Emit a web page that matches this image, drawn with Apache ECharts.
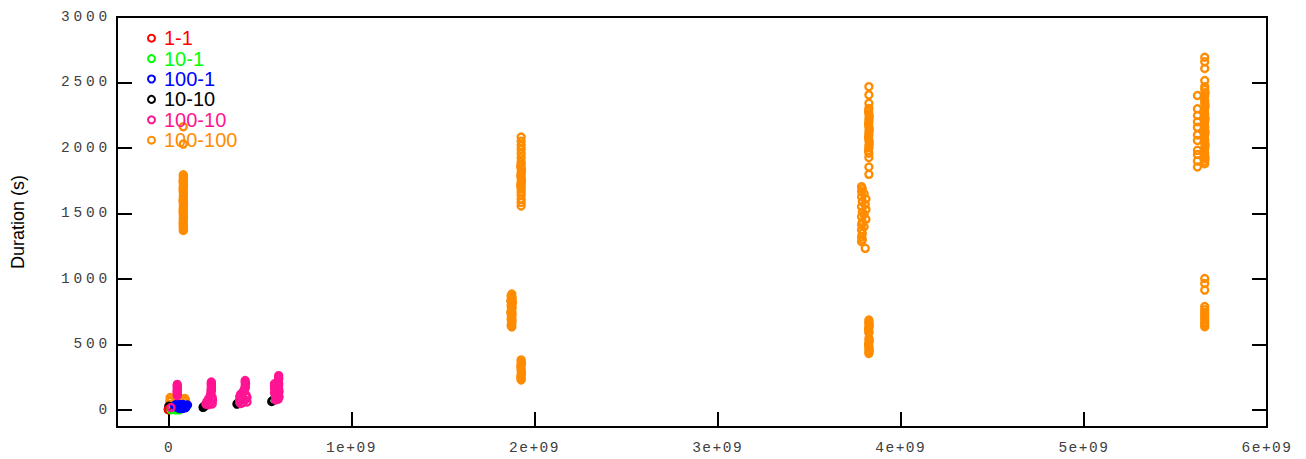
<!DOCTYPE html>
<html><head><meta charset="utf-8">
<script src="https://cdn.jsdelivr.net/npm/echarts@6/dist/echarts.min.js"></script>
<style>html,body{margin:0;padding:0;background:#fff}#chart{width:1306px;height:459px}</style>
</head><body><div id="chart"></div>
<script>
const seriesNames = ['1-1', '10-1', '100-1', '10-10', '100-10', '100-100'];
const seriesColors = ['#ff0000', '#00ff00', '#0000ff', '#000000', '#ff1493', '#ff8c00'];
const xTickValues = [0, 1e9, 2e9, 3e9, 4e9, 5e9, 6e9];
const xTickLabels = ['0', '1e+09', '2e+09', '3e+09', '4e+09', '5e+09', '6e+09'];
const yTickValues = [0, 500, 1000, 1500, 2000, 2500, 3000];
const yTickLabels = ['0', '500', '1000', '1500', '2000', '2500', '3000'];

const data_1_1 = [[1e6, 2], [2e6, 4], [3e6, 6]];
const data_10_1 = [[1.5e7, 2], [4e7, 1], [6e7, 1]];
const data_100_1 = [[3.5e7, 30], [4e7, 40], [4.5e7, 22], [5e7, 35], [5.5e7, 45], [6e7, 28],
  [6.5e7, 38], [7e7, 20], [7.5e7, 33], [8e7, 42], [8.5e7, 25], [9e7, 36], [9.5e7, 18],
  [1e8, 30], [1.05e8, 38], [6e7, 12], [8e7, 12]];
const data_10_10 = [[0, 5], [5e6, 15], [1e7, 22], [3e6, 28],
  [1.9e8, 20], [1.95e8, 26], [2e8, 32],
  [3.75e8, 45], [3.8e8, 52],
  [5.65e8, 65], [5.7e8, 72]];
const data_100_10 = [[1.5e7, 18],
  [4.9e7, 195], [4.9e7, 184], [4.9e7, 173], [5.0e7, 165], [4.9e7, 152], [4.8e7, 141], [4.9e7, 130], [5.0e7, 120], [4.9e7, 110],
  [2.35e8, 213], [2.35e8, 204], [2.35e8, 194], [2.35e8, 184], [2.36e8, 174], [2.35e8, 163], [2.34e8, 154], [2.35e8, 145],
  [2.33e8, 130], [2.3e8, 112], [2.4e8, 96], [2.2e8, 86], [2.42e8, 74], [2.1e8, 62], [2.3e8, 55], [2.4e8, 46], [2.05e8, 45], [2.2e8, 40],
  [4.2e8, 225], [4.2e8, 212], [4.22e8, 200], [4.2e8, 186], [4.21e8, 171], [4.15e8, 156], [4.1e8, 141], [4.05e8, 130],
  [3.95e8, 120], [4.25e8, 114], [3.9e8, 101], [4.3e8, 95], [4e8, 85], [4.2e8, 76], [3.9e8, 70], [4.3e8, 61], [4.05e8, 55], [3.95e8, 50],
  [6.03e8, 262], [6.03e8, 248], [6.03e8, 235], [6.0e8, 221], [6.03e8, 206], [5.8e8, 200], [6.03e8, 190], [5.8e8, 184],
  [6.0e8, 175], [5.8e8, 166], [6.03e8, 160], [5.85e8, 150], [6.05e8, 140], [5.8e8, 131], [6.0e8, 120], [5.85e8, 110],
  [6.05e8, 100], [5.9e8, 91], [6.0e8, 82], [5.85e8, 76]];
const data_100_100 = [
  [1.0e7, 95], [1.2e7, 78], [0.8e7, 66], [9.0e7, 88], [9.5e7, 73], [8.8e7, 61],
  [8.2e7, 2163], [8.2e7, 2030], [8.2e7, 1795], [8.2e7, 1781], [8.3e7, 1768], [8.1e7, 1752], [8.2e7, 1743], [8.2e7, 1728],
  [8.3e7, 1714], [8.2e7, 1702], [8.2e7, 1695], [8.1e7, 1679], [8.2e7, 1663], [8.3e7, 1648], [8.2e7, 1629], [8.2e7, 1612],
  [8.1e7, 1600], [8.2e7, 1591], [8.2e7, 1575], [8.3e7, 1561], [8.2e7, 1546], [8.2e7, 1533], [8.1e7, 1519], [8.2e7, 1505],
  [8.2e7, 1491], [8.3e7, 1477], [8.2e7, 1462], [8.2e7, 1449], [8.1e7, 1429], [8.2e7, 1413], [8.2e7, 1402], [8.2e7, 1390],
  [8.3e7, 1378], [8.2e7, 1370],
  [1.927e9, 2083], [1.927e9, 2052], [1.927e9, 2020], [1.927e9, 1991], [1.927e9, 1957], [1.927e9, 1925], [1.927e9, 1893],
  [1.927e9, 1876], [1.925e9, 1861], [1.927e9, 1846], [1.929e9, 1831], [1.927e9, 1814], [1.927e9, 1799], [1.925e9, 1786],
  [1.927e9, 1770], [1.929e9, 1754], [1.927e9, 1741], [1.927e9, 1726], [1.925e9, 1714], [1.927e9, 1702], [1.927e9, 1686],
  [1.927e9, 1664], [1.927e9, 1641], [1.927e9, 1608], [1.927e9, 1584], [1.927e9, 1557],
  [1.876e9, 885], [1.872e9, 871], [1.878e9, 858], [1.876e9, 846], [1.870e9, 833], [1.880e9, 821], [1.876e9, 807],
  [1.872e9, 795], [1.878e9, 782], [1.874e9, 770], [1.876e9, 757], [1.870e9, 746], [1.878e9, 732], [1.874e9, 721],
  [1.876e9, 707], [1.872e9, 694], [1.878e9, 683], [1.874e9, 669], [1.876e9, 656], [1.872e9, 645], [1.876e9, 634],
  [1.927e9, 382], [1.927e9, 369], [1.929e9, 356], [1.927e9, 344], [1.925e9, 331], [1.927e9, 311], [1.927e9, 296],
  [1.929e9, 281], [1.927e9, 266], [1.925e9, 251], [1.927e9, 238], [1.927e9, 229],
  [3.826e9, 2468], [3.826e9, 2405], [3.826e9, 2341], [3.826e9, 2302], [3.824e9, 2281], [3.826e9, 2262], [3.828e9, 2240],
  [3.826e9, 2221], [3.826e9, 2199], [3.824e9, 2182], [3.826e9, 2161], [3.828e9, 2139], [3.826e9, 2121], [3.826e9, 2102],
  [3.824e9, 2080], [3.826e9, 2061], [3.828e9, 2041], [3.826e9, 2019], [3.826e9, 2001], [3.824e9, 1979], [3.826e9, 1960],
  [3.826e9, 1927], [3.826e9, 1855], [3.826e9, 1799],
  [3.786e9, 1705], [3.790e9, 1689], [3.786e9, 1667], [3.800e9, 1651], [3.786e9, 1628], [3.810e9, 1611], [3.790e9, 1591],
  [3.806e9, 1570], [3.786e9, 1552], [3.810e9, 1531], [3.790e9, 1511], [3.800e9, 1494], [3.786e9, 1476], [3.810e9, 1456],
  [3.790e9, 1436], [3.786e9, 1415], [3.800e9, 1399], [3.786e9, 1376], [3.790e9, 1348], [3.786e9, 1321], [3.790e9, 1301],
  [3.786e9, 1285], [3.806e9, 1234],
  [3.826e9, 687], [3.826e9, 672], [3.826e9, 659], [3.828e9, 645], [3.826e9, 630], [3.824e9, 616], [3.826e9, 601],
  [3.826e9, 588], [3.826e9, 546], [3.828e9, 531], [3.826e9, 516], [3.824e9, 500], [3.826e9, 486], [3.826e9, 471],
  [3.828e9, 456], [3.826e9, 443], [3.826e9, 432],
  [5.66e9, 2693], [5.66e9, 2658], [5.66e9, 2607], [5.66e9, 2515], [5.66e9, 2468], [5.66e9, 2446], [5.662e9, 2421],
  [5.66e9, 2399], [5.658e9, 2381], [5.66e9, 2361], [5.66e9, 2339], [5.662e9, 2321], [5.66e9, 2301], [5.658e9, 2279],
  [5.66e9, 2261], [5.66e9, 2239], [5.662e9, 2221], [5.66e9, 2200], [5.658e9, 2181], [5.66e9, 2160], [5.66e9, 2139],
  [5.662e9, 2121], [5.66e9, 2101], [5.658e9, 2079], [5.66e9, 2061], [5.66e9, 2039], [5.662e9, 2021], [5.66e9, 2000],
  [5.658e9, 1981], [5.66e9, 1960], [5.66e9, 1941], [5.662e9, 1921], [5.66e9, 1899], [5.66e9, 1880],
  [5.62e9, 2401], [5.62e9, 2299], [5.62e9, 2248], [5.62e9, 2200], [5.62e9, 2159], [5.62e9, 2100], [5.62e9, 2058],
  [5.62e9, 1982], [5.62e9, 1950], [5.62e9, 1900], [5.62e9, 1855],
  [5.66e9, 1004], [5.66e9, 966], [5.66e9, 915], [5.66e9, 789], [5.66e9, 766], [5.66e9, 745], [5.66e9, 725],
  [5.66e9, 705], [5.66e9, 686], [5.66e9, 666], [5.66e9, 650], [5.66e9, 636]];

const seriesData = [data_1_1, data_10_1, data_100_1, data_10_10, data_100_10, data_100_100];
const seriesZ = [3, 4, 5, 2, 6, 1];

const monoFont = 'Liberation Mono';
const chart = echarts.init(document.getElementById('chart'), null, {renderer: 'svg'});
chart.setOption({
  animation: false,
  backgroundColor: '#fff',
  grid: {left: 117, right: 39, top: 17, bottom: 32, show: true, borderColor: '#000', borderWidth: 2, backgroundColor: 'transparent'},
  legend: {
    orient: 'vertical', left: 147, top: 28, padding: 0, itemGap: 0,
    itemWidth: 7, itemHeight: 7,
    selectedMode: false,
    data: seriesNames.map((n, i) => ({name: n, textStyle: {color: seriesColors[i]}})),
    textStyle: {fontFamily: 'Liberation Sans', fontSize: 20, lineHeight: 20.4, padding: [0, 0, 0, 4]}
  },
  xAxis: {
    type: 'value', min: -2.8e8, max: 6e9,
    splitLine: {show: false},
    axisLine: {show: true, onZero: false, lineStyle: {color: '#000', width: 2}},
    axisTick: {show: true, inside: true, length: 15, customValues: xTickValues, lineStyle: {color: '#000', width: 2}},
    axisLabel: {
      customValues: xTickValues, margin: 13, color: '#404040', fontFamily: monoFont, fontSize: 14.5,
      formatter: v => { const i = xTickValues.indexOf(v); return i >= 0 ? xTickLabels[i] : ''; }
    }
  },
  yAxis: [{
    type: 'value', min: -130, max: 3000, position: 'left',
    name: 'Duration (s)', nameLocation: 'middle', nameGap: 90,
    nameTextStyle: {fontFamily: 'Liberation Sans', fontSize: 18, color: '#000'},
    splitLine: {show: false},
    axisLine: {show: true, onZero: false, lineStyle: {color: '#000', width: 2}},
    axisTick: {show: true, inside: true, length: 15, customValues: yTickValues, lineStyle: {color: '#000', width: 2}},
    axisLabel: {
      customValues: yTickValues, margin: 6, color: '#404040', fontFamily: monoFont, fontSize: 14.5,
      formatter: v => { const i = yTickValues.indexOf(v); return i >= 0 ? yTickLabels[i] : ''; }
    }
  }, {
    type: 'value', min: -130, max: 3000, position: 'right',
    splitLine: {show: false},
    axisLine: {show: true, onZero: false, lineStyle: {color: '#000', width: 2}},
    axisTick: {show: true, inside: true, length: 15, customValues: yTickValues, lineStyle: {color: '#000', width: 2}},
    axisLabel: {show: false}
  }],
  series: seriesNames.map((n, i) => ({
    name: n, type: 'scatter', data: seriesData[i], z: seriesZ[i],
    symbol: 'circle', symbolSize: 7,
    itemStyle: {color: 'rgba(255,255,255,0)', borderColor: seriesColors[i], borderWidth: 2.4, opacity: 1},
    emphasis: {disabled: true}
  }))
});
function spaceLabels() {
  document.querySelectorAll('#chart text').forEach(t => {
    const st = (t.getAttribute('style') || '') + ' ' + (t.getAttribute('font-family') || '') + ' ' + getComputedStyle(t).fontFamily;
    if (st.indexOf('Mono') >= 0) {
      const txt = t.textContent;
      const isX = txt.indexOf('e+') >= 0 || (txt === '0' && t.getAttribute('text-anchor') === 'middle');
      t.style.letterSpacing = isX ? (txt === '0' ? '0px' : '1.5px') : '3.8px';
    }
  });
}
chart.on('finished', spaceLabels);
spaceLabels();
setTimeout(spaceLabels, 50);
</script></body></html>
